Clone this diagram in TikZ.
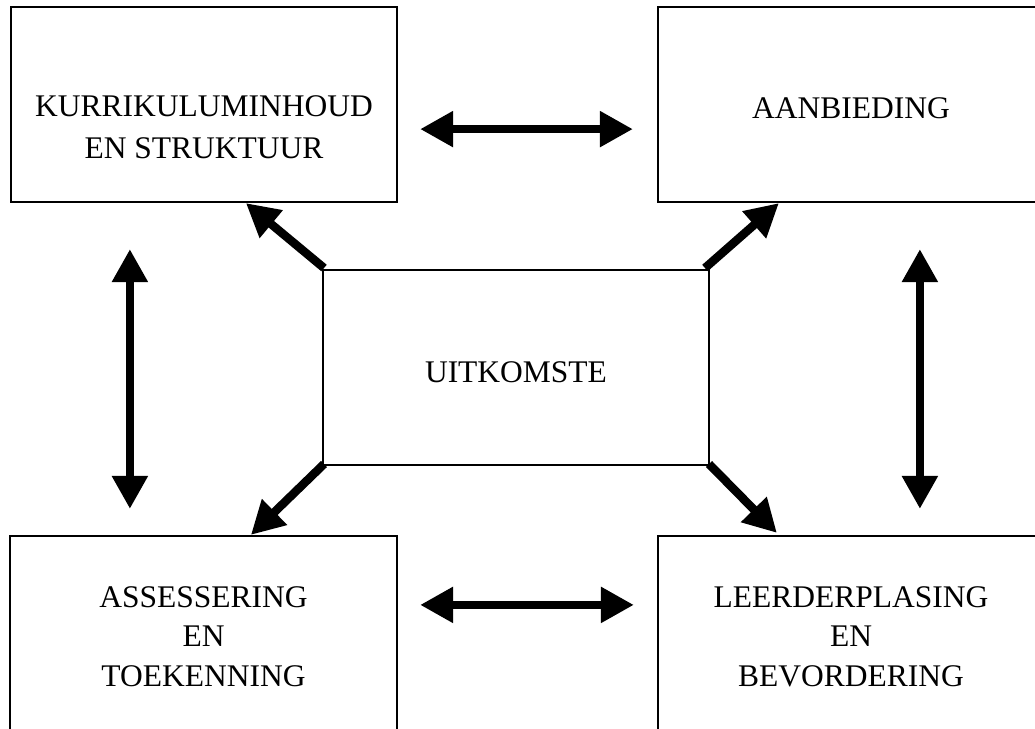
\documentclass[tikz,border=0pt]{standalone}
\usepackage{fontspec}
\setmainfont{Liberation Serif}
\usetikzlibrary{arrows.meta,calc}
\begin{document}
\begin{tikzpicture}[x=1pt,y=-1pt,
  box/.style={draw,line width=2.2pt,minimum width=386pt,minimum height=195pt,inner sep=0pt},
  lbl/.style={inner sep=0pt,align=center,font=\fontsize{31.5}{42}\selectfont},
  conn/.style={line width=8.5pt,-{Triangle[length=33pt,width=34pt]}},
  biconn/.style={line width=8.5pt,{Triangle[length=33pt,width=34pt]}-{Triangle[length=33pt,width=34pt]}}]
\useasboundingbox (0,0) rectangle (1035,728);
\clip (0,0) rectangle (1035,728);
\fill[white] (0,0) rectangle (1035,728);
% boxes
\node[box] (tl) at (204,104.5) {};
\node[box] (tr) at (851,104.5) {};
\node[box,line width=2pt] (c) at (516,367.5) {};
\node[box,minimum width=387pt] (bl) at (203.5,633.5) {};
\node[box] (br) at (851,633.5) {};
% labels
\node[lbl,anchor=north] (t1) at (204,95) {KURRIKULUMINHOUD\\EN STRUKTUUR};
\node[lbl,anchor=base] (t2) at (851,118) {AANBIEDING};
\node[lbl,anchor=base] (t3) at (516,382) {UITKOMSTE};
\node[lbl,anchor=north,font=\fontsize{31.5}{39.5}\selectfont] (t4) at (203.5,586) {ASSESSERING\\EN\\TOEKENNING};
\node[lbl,anchor=north,font=\fontsize{31.5}{39.5}\selectfont] (t5) at (851,586) {LEERDERPLASING\\EN\\BEVORDERING};
% double arrows
\draw[biconn] ($(tl.south east)+(22,-74)$) -- ($(tr.south west)+(-24,-74)$);
\draw[biconn] ($(bl.north east)+(22,70)$) -- ($(br.north west)+(-23,70)$);
\draw[biconn] ($(tl.south west)+(120,46)$) -- ($(bl.north west)+(121,-26)$);
\draw[biconn] ($(tr.south west)+(263,46)$) -- ($(br.north west)+(263,-26)$);
% diagonal arrows
\draw[conn] ($(c.north west)+(2,-1)$) -- ($(tl.south west)+(236,0)$);
\draw[conn] ($(c.north east)+(-5,-1)$) -- ($(tr.south west)+(122,0)$);
\draw[conn] ($(c.south west)+(2,-2)$) -- ($(bl.north west)+(242,0)$);
\draw[conn] ($(c.south east)+(-1,-2)$) -- ($(br.north west)+(120,-2)$);
\end{tikzpicture}
\end{document}
